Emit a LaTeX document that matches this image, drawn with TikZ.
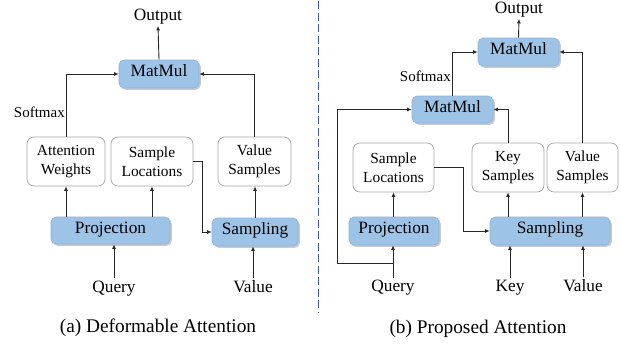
\documentclass[tikz,border=0pt]{standalone}
\usepackage{fontspec}
\setmainfont{Liberation Serif}
\usetikzlibrary{arrows.meta,shadows,calc}
\definecolor{boxblue}{RGB}{157,195,230}
\definecolor{boxblueedge}{RGB}{140,178,215}
\definecolor{graybd}{RGB}{165,165,165}
\definecolor{sepblue}{RGB}{62,92,158}
\definecolor{linec}{RGB}{40,40,40}
\begin{document}
\begin{tikzpicture}[x=1pt,y=-1pt,
  bluebox/.style={draw=boxblueedge, line width=0.6pt, fill=boxblue, rounded corners=5pt,
    inner sep=0pt, text height=0.75em, text depth=0.16em, font=\fontsize{17.3}{20}\selectfont,
    drop shadow={shadow xshift=1.8pt, shadow yshift=-1.8pt, opacity=0.35, fill=black!60}},
  whitebox/.style={draw=graybd, line width=0.7pt, fill=white, rounded corners=7pt,
    inner sep=0pt, align=center, font=\fontsize{15.4}{19.5}\selectfont},
  lbl/.style={inner sep=2pt, anchor=base, font=\fontsize{17.3}{20}\selectfont},
  smlbl/.style={inner sep=0pt, anchor=base east, font=\fontsize{15}{18}\selectfont},
  captext/.style={inner sep=0pt, anchor=base, font=\fontsize{19.3}{22}\selectfont},
  arr/.style={draw=linec, line width=0.9pt, -{Latex[length=4.5pt,width=4pt]}}]
\useasboundingbox (0,0) rectangle (621,343);

% ---------- left panel ----------
\node[lbl] (out1) at (158,20) {Output};
\node[bluebox, minimum width=80pt, minimum height=28pt] (mm1) at (159,74) {MatMul};
\node[whitebox, minimum width=78pt, minimum height=49pt] (aw) at (66,161.5) {Attention\\Weights};
\node[whitebox, minimum width=82pt, minimum height=49pt] (sl) at (152,161.5) {Sample\\Locations};
\node[whitebox, minimum width=73pt, minimum height=49pt] (vs) at (254.5,161.5) {Value\\Samples};
\node[bluebox, minimum width=119pt, minimum height=27pt] (proj) at (110.5,230.5) {Projection};
\node[bluebox, minimum width=86pt, minimum height=28pt] (samp) at (255,232) {Sampling};
\node[lbl] (q1) at (114,292) {Query};
\node[lbl] (v1) at (253,292) {Value};
\node[smlbl] (sm1) at (65,117) {Softmax};
\node[captext] (cap1) at (158,332.5) {(a) Deformable Attention};

\draw[arr] (mm1.north) -- (out1.south);
\draw[arr] (aw.north) |- (mm1.west);
\draw[arr] (vs.north) |- (mm1.east);
\draw[arr] (aw.south |- proj.north) -- (aw.south);
\draw[arr] (sl.south |- proj.north) -- (sl.south);
\draw[arr] (sl.east) -- ++(9,0) |- (samp.west);
\draw[arr] (samp.north) -- (samp.north |- vs.south);
\draw[arr] (q1.north) -- (q1.north |- proj.south);
\draw[arr] (v1.north) -- (v1.north |- samp.south);

% ---------- separator ----------
\draw[sepblue, line width=1.2pt, dash pattern=on 8pt off 3.5pt] (318.5,1) -- (318.5,313);

% ---------- right panel ----------
\node[lbl] (out2) at (519,13) {Output};
\node[bluebox, minimum width=81pt, minimum height=28pt] (mm2) at (518.5,52) {MatMul};
\node[bluebox, minimum width=81pt, minimum height=27pt] (mm1r) at (452.5,109.5) {MatMul};
\node[whitebox, minimum width=81pt, minimum height=49pt] (slr) at (393.5,167.5) {Sample\\Locations};
\node[whitebox, minimum width=72pt, minimum height=49pt] (ks) at (508,167.5) {Key\\Samples};
\node[whitebox, minimum width=71pt, minimum height=49pt] (vsr) at (582.5,167.5) {Value\\Samples};
\node[bluebox, minimum width=90pt, minimum height=28pt] (projr) at (394,231) {Projection};
\node[bluebox, minimum width=120pt, minimum height=28pt] (sampr) at (550,231) {Sampling};
\node[lbl] (q2) at (393,291.5) {Query};
\node[lbl] (k2) at (510,291.5) {Key};
\node[lbl] (v2) at (583,291.5) {Value};
\node[smlbl] (sm2) at (451,81) {Softmax};
\node[captext] (cap2) at (478,333) {(b) Proposed Attention};

\coordinate (br) at (393,263);
\coordinate (lc) at (337,263);

\draw[arr] (mm2.north) -- (out2.south);
\draw[arr] (mm1r.north) |- (mm2.west);
\draw[arr] (vsr.north) |- (mm2.east);
\draw[arr] (ks.north) |- (mm1r.east);
\draw[arr] (br) -- (lc) |- (mm1r.west);
\draw[arr] (slr.south |- projr.north) -- (slr.south);
\draw[arr] (slr.east) -- ++(29,0) |- (sampr.west);
\draw[arr] (ks.south |- sampr.north) -- (ks.south);
\draw[arr] (vsr.south |- sampr.north) -- (vsr.south);
\draw[arr] (q2.north) -- (q2.north |- projr.south);
\draw[arr] (k2.north) -- (k2.north |- sampr.south);
\draw[arr] (v2.north) -- (v2.north |- sampr.south);
\end{tikzpicture}
\end{document}
